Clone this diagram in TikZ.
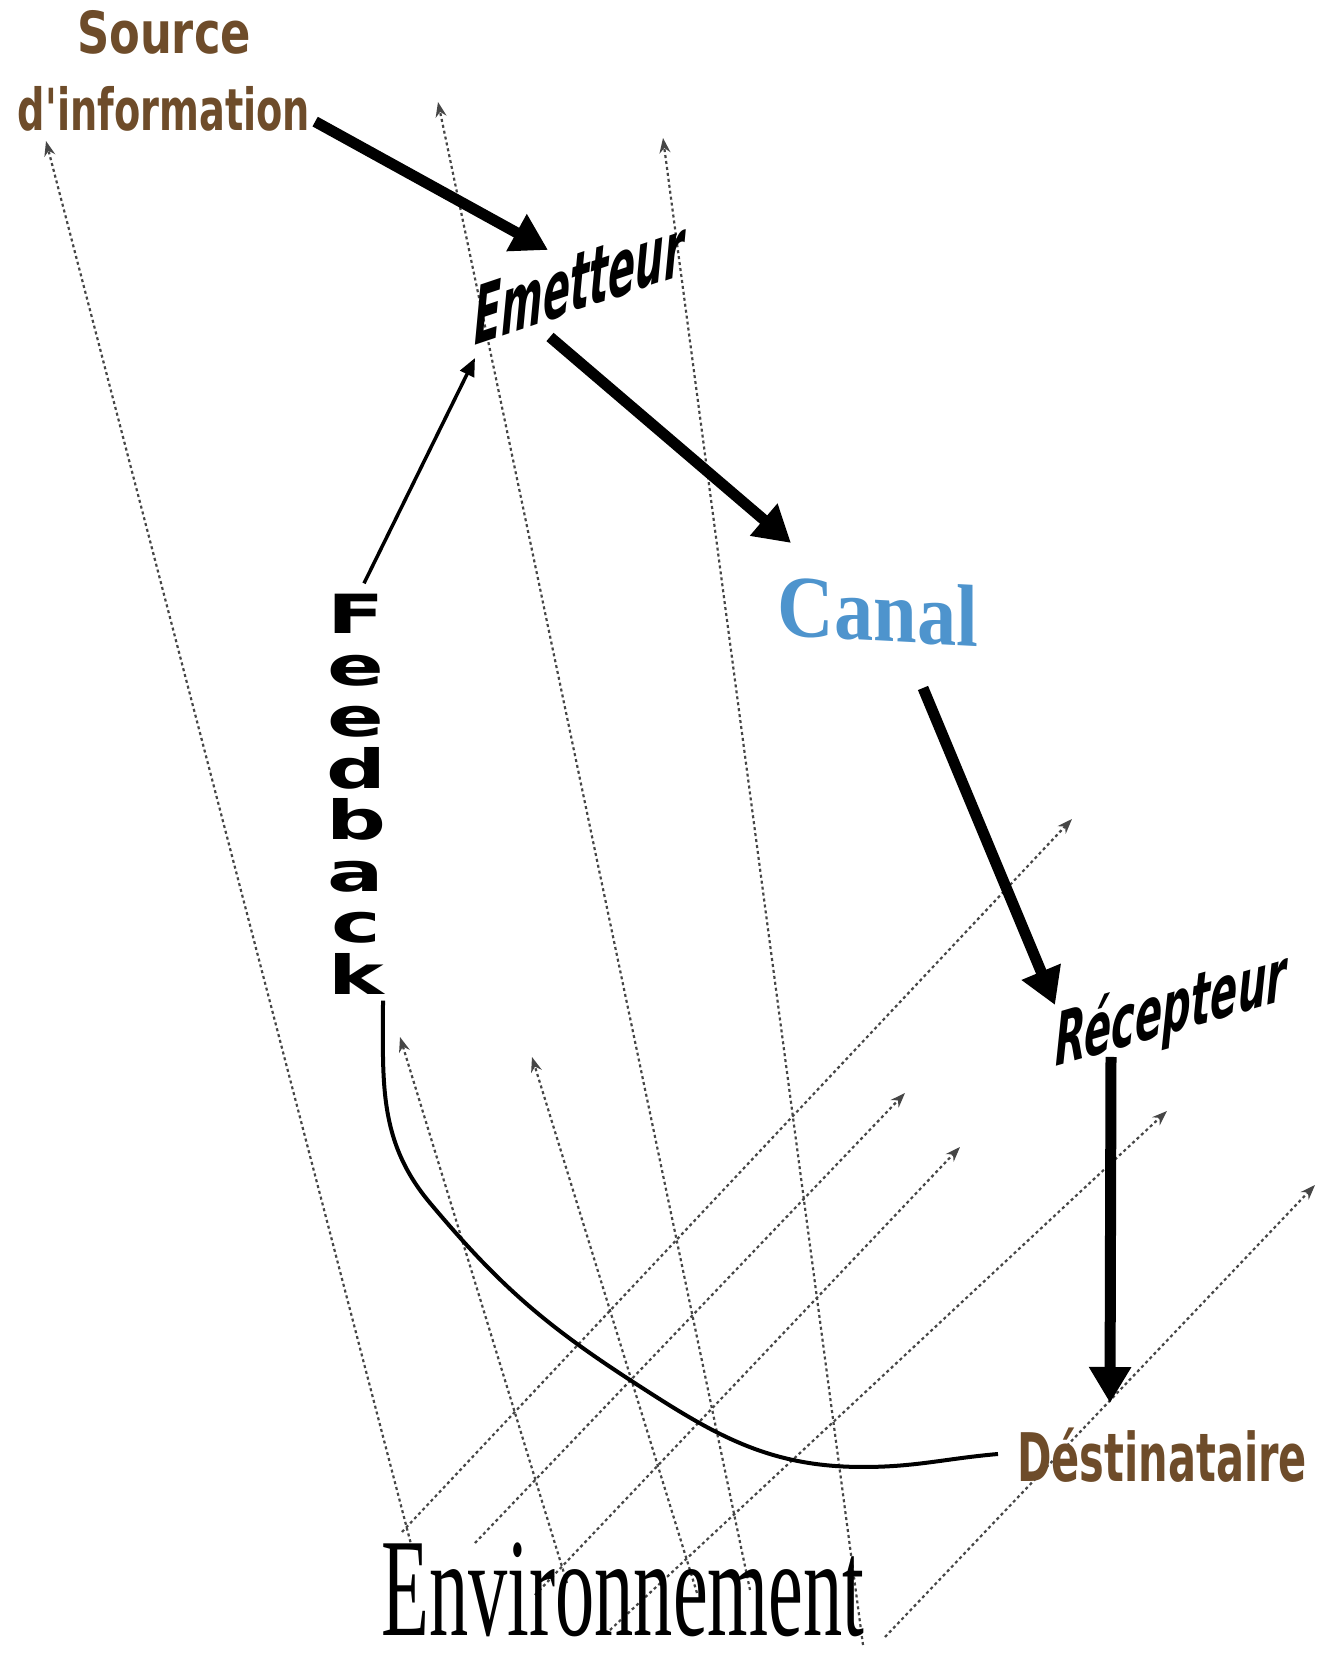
\documentclass[tikz,border=0pt]{standalone}
\usepackage{fontspec}
\setmainfont{Liberation Serif}
\newfontfamily\wordfont{DejaVu Sans}
\usetikzlibrary{arrows.meta}
\definecolor{wordbrown}{RGB}{110,76,42}
\definecolor{canalblue}{RGB}{78,148,205}
\definecolor{envgray}{RGB}{70,70,70}

\begin{document}
\begin{tikzpicture}[x=1pt, y=1pt,
    bigarrow/.style={line width=11pt, -{Triangle[length=36pt, width=40pt]}},
    fbarrow/.style={line width=3.5pt, -{Triangle[length=18pt, width=15pt]}},
    fbcurve/.style={line width=4pt},
    envarrow/.style={draw=envgray, line width=2.2pt, dash pattern=on 3pt off 3pt, -{Stealth[length=15pt, width=11pt]}},
    brownword/.style={inner sep=0pt, text=wordbrown},
    tiltword/.style={inner sep=0pt, anchor=base}
]
    \useasboundingbox (0,0) rectangle (1319,1664);

    % Environment arrows
    \draw[envarrow] (412,116) -- (46,1523);
    \draw[envarrow] (750,74) -- (438,1562);
    \draw[envarrow] (863,19) -- (663,1526);
    \draw[envarrow] (567,81) -- (400,627);
    \draw[envarrow] (697,71) -- (532,607);
    \draw[envarrow] (402,132) -- (1072,845);
    \draw[envarrow] (475,121) -- (905,571);
    \draw[envarrow] (535,69) -- (960,517);
    \draw[envarrow] (610,34) -- (1167,553);
    \draw[envarrow] (885,27) -- (1315,479);

    % Words
    \node[brownword, align=center, xscale=0.66, font=\wordfont\bfseries\fontsize{58}{77}\selectfont] (source) at (164,1593) {\scalebox{1.17}[1]{Source}\\d'information};
    \node[tiltword, cm={0.5,0.168,0,1,(0,0)}, font=\wordfont\bfseries\itshape\fontsize{80}{80}\selectfont] (emetteur) at (579,1354) {Emetteur};
    \node[inner sep=0pt, text=canalblue, cm={0.89,-0.047,0,1,(0,0)}, font=\bfseries\fontsize{88}{88}\selectfont] (canal) at (878,1053) {Canal};
    \node[tiltword, cm={0.55,0.16,0,1,(0,0)}, font=\wordfont\bfseries\itshape\fontsize{73}{73}\selectfont] (recepteur) at (1171,631) {Récepteur};
    \node[brownword, anchor=base, xscale=0.62, font=\wordfont\bfseries\fontsize{67}{67}\selectfont] (destinataire) at (1162,182) {Déstinataire};
    \node[inner sep=0pt, align=center, xscale=1.55, font=\wordfont\bfseries\fontsize{54}{51.5}\selectfont] (feedback) at (356,869.5) {F\\e\\e\\d\\b\\a\\c\\k};
    \node[inner sep=0pt, anchor=base, xscale=0.56, font=\fontsize{140}{140}\selectfont] (environnement) at (623,28) {Environnement};

    % Flow
    \draw[bigarrow] ([shift={(5,10)}]source.south east) -- ([shift={(-31,60)}]emetteur.base);
    \draw[bigarrow] ([shift={(-29,-27)}]emetteur.base) -- ([shift={(-87,68)}]canal.center);
    \draw[bigarrow] ([shift={(45,-77)}]canal.center) -- ([shift={(-116,28)}]recepteur.base);
    \draw[bigarrow] ([shift={(-60,-24)}]recepteur.base) -- ([shift={(-52,79)}]destinataire.base);

    % Feedback loop
    \draw[fbarrow] ([shift={(8,11)}]feedback.north) -- ([shift={(-104,-48)}]emetteur.base);
    \draw[fbcurve] ([shift={(27,-6)}]feedback.south) to[out=-90, in=130] (430,461)
        to[out=-50, in=147] (630,284) to[out=-33, in=180] (863,197)
        to[out=0, in=185] ([shift={(-164,28)}]destinataire.base);
\end{tikzpicture}
\end{document}
